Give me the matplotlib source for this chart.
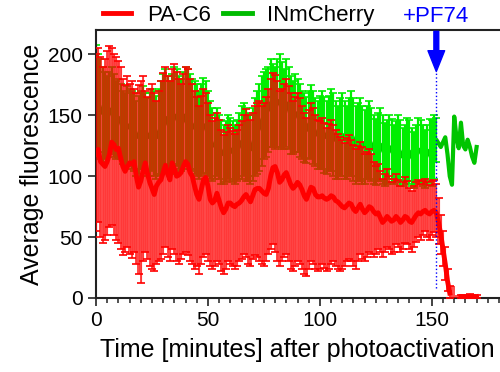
import numpy as np
import matplotlib
matplotlib.use('Agg')
import matplotlib.pyplot as plt
from matplotlib.lines import Line2D
from matplotlib.ticker import MultipleLocator

matplotlib.rcParams['font.family'] = ['Liberation Sans', 'DejaVu Sans']

nan = np.nan
minutes = np.arange(171)
pf74_time = 152

# PA-C6 (red), t = 0..170 min
red_mean = [118, 122, 112, 110, 108, 112, 118, 128, 126, 122, 123, 115, 108, 104, 108, 111, 110, 112, 100, 91,
            96, 104, 111, 102, 95, 90, 85, 92, 95, 97, 103, 109, 102, 97, 111, 106, 100, 101, 103, 108,
            112, 110, 103, 100, 92, 85, 81, 89, 97, 99, 92, 81, 78, 80, 86, 80, 74, 70, 73, 78,
            78, 76, 75, 77, 78, 80, 83, 85, 82, 79, 84, 89, 90, 90, 88, 86, 85, 90, 100, 107,
            108, 103, 95, 97, 101, 103, 98, 93, 90, 92, 95, 93, 89, 84, 81, 86, 91, 90, 85, 83,
            83, 84, 82, 81, 82, 84, 83, 80, 79, 77, 75, 74, 76, 78, 77, 73, 71, 74, 77, 73,
            70, 72, 75, 74, 71, 69, 70, 66, 62, 64, 67, 65, 63, 64, 67, 65, 62, 64, 67, 66,
            63, 62, 65, 68, 70, 69, 71, 72, 70, 69, 71, 72, 70, 62, 52, 40, 28, 14, 4, nan,
            nan, nan, nan, 1, 1, 0.5, 1, 1.5, 1, 0.5, 1]
red_hi = [200, 205, 198, 190, 196, 203, 207, 205, 200, 198, 195, 190, 180, 175, 182, 176, 178, 172, 168, 175,
          178, 182, 170, 165, 172, 176, 168, 162, 170, 178, 185, 190, 182, 178, 188, 192, 186, 180, 176, 184,
          190, 188, 180, 176, 170, 165, 158, 166, 172, 168, 160, 150, 145, 148, 152, 146, 138, 134, 136, 142,
          140, 137, 135, 138, 142, 145, 150, 155, 150, 146, 152, 158, 160, 162, 158, 160, 165, 172, 180, 185,
          183, 178, 170, 172, 176, 180, 174, 168, 162, 165, 168, 164, 158, 152, 148, 154, 160, 156, 150, 146,
          145, 148, 144, 140, 143, 146, 142, 138, 135, 132, 130, 127, 131, 134, 130, 126, 122, 125, 128, 124,
          118, 120, 122, 118, 112, 108, 110, 104, 98, 102, 106, 100, 95, 98, 102, 97, 92, 95, 99, 96,
          90, 88, 92, 95, 97, 94, 96, 98, 95, 93, 96, 97, 94, 82, 68, 55, 42, 24, 10, nan,
          nan, nan, nan, 2.5, 2.5, 2, 2.5, 3, 2.5, 2, 2.5]
red_lo = [55, 62, 50, 45, 48, 52, 58, 60, 52, 48, 45, 40, 35, 38, 42, 36, 33, 38, 28, 20,
          12, 30, 38, 32, 26, 24, 22, 28, 30, 32, 36, 42, 34, 30, 40, 36, 30, 28, 32, 36,
          38, 35, 30, 28, 24, 26, 20, 28, 34, 36, 30, 26, 24, 26, 30, 28, 22, 20, 24, 30,
          28, 26, 24, 26, 30, 32, 36, 34, 28, 26, 32, 35, 34, 30, 28, 26, 30, 36, 40, 44,
          38, 30, 26, 30, 34, 36, 30, 24, 22, 26, 30, 28, 24, 20, 18, 24, 30, 28, 24, 22,
          24, 28, 25, 22, 24, 28, 30, 26, 24, 22, 24, 26, 30, 32, 30, 26, 24, 30, 36, 32,
          30, 34, 38, 36, 34, 36, 40, 38, 34, 38, 42, 40, 36, 38, 44, 42, 38, 40, 45, 44,
          40, 38, 42, 46, 50, 48, 52, 55, 50, 48, 52, 54, 50, 44, 36, 26, 15, 6, 0, nan,
          nan, nan, nan, 0, 0, 0, 0, 0, 0, 0, 0]

# INmCherry (green), mean t = 0..170, error bars t = 0..152
green_mean = [168, 160, 155, 152, 150, 148, 152, 155, 150, 146, 148, 145, 140, 138, 142, 140, 138, 136, 132, 134,
              138, 140, 136, 132, 134, 138, 135, 132, 136, 140, 145, 148, 144, 140, 146, 150, 148, 144, 142, 146,
              150, 148, 145, 142, 140, 138, 134, 138, 142, 140, 135, 130, 126, 125, 128, 124, 120, 118, 120, 124,
              122, 120, 118, 121, 125, 128, 130, 126, 124, 122, 126, 132, 136, 140, 145, 150, 152, 155, 160, 158,
              156, 160, 162, 158, 155, 160, 156, 150, 148, 152, 150, 146, 142, 140, 138, 142, 145, 140, 136, 134,
              136, 138, 134, 132, 135, 138, 134, 130, 128, 132, 134, 130, 128, 132, 135, 130, 126, 128, 130, 126,
              124, 128, 130, 126, 122, 120, 124, 126, 122, 118, 120, 124, 121, 118, 120, 123, 119, 116, 118, 122,
              120, 116, 113, 118, 122, 120, 117, 114, 118, 121, 119, 124, 130, 127, 124, 128, 132, 118, 100, 93,
              149, 132, 123, 144, 125, 122, 130, 124, 116, 111, 124]
green_hi = [208, 200, 196, 190, 186, 182, 186, 190, 184, 178, 180, 176, 170, 168, 174, 172, 170, 168, 162, 166,
            170, 174, 168, 164, 168, 172, 170, 166, 172, 178, 184, 188, 182, 178, 184, 190, 188, 182, 180, 186,
            190, 188, 184, 180, 178, 176, 170, 176, 181, 178, 170, 162, 156, 152, 156, 150, 146, 142, 145, 150,
            148, 145, 142, 146, 152, 158, 160, 156, 152, 150, 156, 164, 170, 176, 182, 186, 188, 190, 196, 192,
            190, 196, 200, 194, 188, 196, 190, 182, 178, 184, 180, 176, 170, 168, 165, 170, 175, 170, 164, 162,
            166, 170, 165, 162, 166, 172, 168, 162, 158, 164, 168, 162, 158, 164, 170, 164, 158, 160, 164, 158,
            154, 158, 162, 156, 150, 147, 152, 156, 150, 144, 146, 150, 147, 142, 145, 150, 146, 140, 142, 148,
            146, 140, 136, 142, 148, 146, 142, 138, 142, 147, 146, 150, 148]
green_lo = [128, 120, 114, 112, 114, 116, 118, 120, 116, 114, 116, 114, 110, 108, 110, 108, 106, 104, 100, 102,
            106, 106, 104, 100, 100, 104, 100, 98, 100, 102, 106, 108, 106, 102, 108, 110, 108, 106, 104, 106,
            110, 108, 106, 104, 102, 100, 98, 100, 103, 102, 100, 98, 96, 98, 100, 98, 94, 94, 95, 98,
            96, 95, 94, 96, 98, 98, 100, 96, 96, 94, 96, 100, 102, 104, 108, 114, 116, 120, 124, 124,
            122, 124, 124, 122, 122, 124, 122, 118, 118, 120, 120, 116, 114, 112, 111, 114, 115, 110, 108, 106,
            106, 106, 103, 102, 104, 104, 100, 98, 98, 100, 100, 98, 98, 100, 100, 96, 94, 96, 96, 94,
            94, 98, 98, 96, 94, 93, 96, 96, 94, 92, 94, 98, 95, 94, 95, 96, 92, 92, 94, 96,
            94, 92, 90, 94, 96, 94, 92, 90, 94, 95, 92, 98, 112]

red_mean = np.array(red_mean, dtype=float)
red_hi = np.array(red_hi, dtype=float)
red_lo = np.array(red_lo, dtype=float)
green_mean = np.array(green_mean, dtype=float)
green_hi = np.array(green_hi, dtype=float)
green_lo = np.array(green_lo, dtype=float)
n_g = len(green_hi)

fig = plt.figure(figsize=(5, 3.72), dpi=100)
ax = fig.add_axes([0.192, 0.199, 0.806, 0.72])

# green first so the translucent red sits on top of it
ax.plot(minutes, green_mean, color='#00c400', lw=3.0, zorder=1)
ax.errorbar(minutes[:n_g], green_mean[:n_g],
            yerr=[green_mean[:n_g] - green_lo, green_hi - green_mean[:n_g]],
            fmt='none', ecolor='#00ee00', elinewidth=1.6, capsize=3, capthick=1.2, zorder=2)

ok = ~np.isnan(red_mean)
ax.fill_between(minutes[ok], red_lo[ok], red_hi[ok], step='mid', color='red', alpha=0.7, lw=0, zorder=3)
eb = ax.errorbar(minutes[ok], red_mean[ok],
                 yerr=[red_mean[ok] - red_lo[ok], red_hi[ok] - red_mean[ok]],
                 fmt='none', ecolor='red', elinewidth=1.0, capsize=3, capthick=1.2, zorder=3.5)
eb[2][0].set_alpha(0.25)
ax.plot(minutes, red_mean, color='red', lw=3.5, zorder=4)

# PF74 addition
ax.vlines(pf74_time, 8, 186, colors='blue', linestyles=':', lw=1, zorder=5)
ax.annotate('', xy=(pf74_time, 186), xytext=(pf74_time, 219),
            arrowprops=dict(facecolor='blue', edgecolor='blue', width=3.5, headwidth=12, headlength=15, shrink=0),
            annotation_clip=False, zorder=6)
ax.text(pf74_time, 231, '+PF74', color='blue', fontsize=16, ha='center', va='center', clip_on=False)

ax.set_xlim(0, 180)
ax.set_ylim(0, 220)
ax.xaxis.set_major_locator(MultipleLocator(50))
ax.xaxis.set_minor_locator(MultipleLocator(5))
ax.yaxis.set_major_locator(MultipleLocator(50))
ax.spines['right'].set_visible(False)
for s in ['left', 'bottom', 'top']:
    ax.spines[s].set_linewidth(1.5)
    ax.spines[s].set_color('#222222')
ax.tick_params(which='major', length=6, width=1.2, labelsize=15, direction='out', colors='#222222',
               labelcolor='black')
ax.tick_params(which='minor', length=3.5, width=1.1, colors='#222222')
ax.set_xlabel('Time [minutes] after photoactivation', fontsize=18, labelpad=6)
ax.set_ylabel('Average fluorescence', fontsize=18, labelpad=3)

handles = [Line2D([], [], color='red', lw=3.5), Line2D([], [], color='#00bb00', lw=3.5)]
fig.legend(handles, ['PA-C6', 'INmCherry'], loc='center left', bbox_to_anchor=(0.205, 0.958),
           ncol=2, frameon=False, fontsize=16, handlelength=1.3, handletextpad=0.7,
           columnspacing=0.55, borderpad=0, borderaxespad=0)

fig.savefig('out.png', dpi=100)
